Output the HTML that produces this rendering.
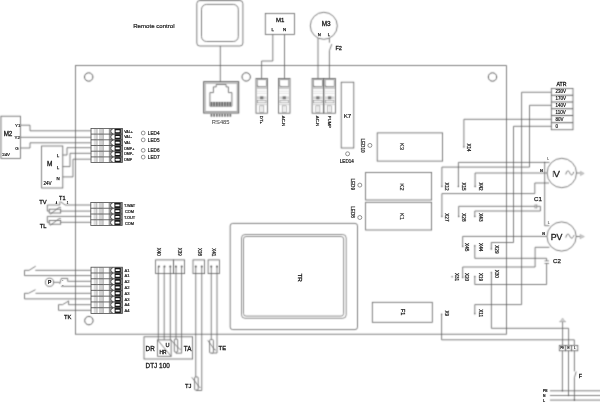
<!DOCTYPE html>
<html><head><meta charset="utf-8"><style>
html,body{margin:0;padding:0;background:#fff;}
svg{display:block;filter:grayscale(1);}
text{font-family:"Liberation Sans",sans-serif;fill:#1a1a1a;stroke:#1a1a1a;stroke-width:2px;}
</style></head><body>
<svg width="600" height="402" viewBox="0 0 600 402" fill="none" stroke="#606060" stroke-width="0.8">
<defs><filter id="bl" x="0" y="0" width="600" height="402" filterUnits="userSpaceOnUse" color-interpolation-filters="sRGB"><feConvolveMatrix order="3" kernelMatrix="4 14 4 14 49 14 4 14 4" divisor="121" edgeMode="duplicate" preserveAlpha="true"/></filter></defs>
<g filter="url(#bl)">
<rect x="0" y="0" width="600" height="402" fill="#fff" stroke="none"/>
<rect x="75.5" y="65.6" width="431" height="268.6"/>
<circle cx="88.7" cy="77" r="4.2" stroke-width="1.0"/>
<circle cx="246.2" cy="76.9" r="4.2" stroke-width="1.0"/>
<circle cx="492.5" cy="77" r="4.2" stroke-width="1.0"/>
<circle cx="88.9" cy="320.6" r="4.2" stroke-width="1.0"/>
<rect x="196.8" y="0.6" width="46.1" height="45.4" rx="3"/>
<rect x="201.5" y="4.4" width="36.8" height="37.1" rx="5"/>
<line x1="220.3" y1="46" x2="220.3" y2="81.7"/>
<rect x="203.7" y="81.7" width="35" height="31.3" stroke="#555" stroke-width="1.0"/>
<rect x="205.1" y="83.1" width="32.2" height="28.5" stroke="#aaa" stroke-width="1.2"/>
<polyline points="209.9,106.2 209.9,92.6 213.4,92.6 213.4,86.9 216.2,86.9 216.2,84.5 226.1,84.5 226.1,86.9 228.4,86.9 228.4,92.6 231.9,92.6 231.9,106.2 209.9,106.2"/>
<rect x="210.3" y="101.8" width="21.4" height="4.6" stroke="none" fill="#bdbdbd"/>
<rect x="210.6" y="102.0" width="1.6" height="4.2" stroke="none" fill="#666"/>
<rect x="210.6" y="113.9" width="1.7" height="2.8" stroke="none" fill="#6a6a6a"/>
<rect x="213.29999999999998" y="102.0" width="1.6" height="4.2" stroke="none" fill="#666"/>
<rect x="213.29999999999998" y="113.9" width="1.7" height="2.8" stroke="none" fill="#6a6a6a"/>
<rect x="216.0" y="102.0" width="1.6" height="4.2" stroke="none" fill="#666"/>
<rect x="216.0" y="113.9" width="1.7" height="2.8" stroke="none" fill="#6a6a6a"/>
<rect x="218.7" y="102.0" width="1.6" height="4.2" stroke="none" fill="#666"/>
<rect x="218.7" y="113.9" width="1.7" height="2.8" stroke="none" fill="#6a6a6a"/>
<rect x="221.4" y="102.0" width="1.6" height="4.2" stroke="none" fill="#666"/>
<rect x="221.4" y="113.9" width="1.7" height="2.8" stroke="none" fill="#6a6a6a"/>
<rect x="224.1" y="102.0" width="1.6" height="4.2" stroke="none" fill="#666"/>
<rect x="224.1" y="113.9" width="1.7" height="2.8" stroke="none" fill="#6a6a6a"/>
<rect x="226.8" y="102.0" width="1.6" height="4.2" stroke="none" fill="#666"/>
<rect x="226.8" y="113.9" width="1.7" height="2.8" stroke="none" fill="#6a6a6a"/>
<rect x="229.5" y="102.0" width="1.6" height="4.2" stroke="none" fill="#666"/>
<rect x="229.5" y="113.9" width="1.7" height="2.8" stroke="none" fill="#6a6a6a"/>
<rect x="265.3" y="13.4" width="29.1" height="21.1"/>
<polyline points="272.8,34.5 272.8,61 261.6,61 261.6,78.2"/>
<line x1="284.5" y1="34.5" x2="284.5" y2="78.2"/>
<circle cx="323.8" cy="25.8" r="13.5"/>
<line x1="318.0" y1="38.1" x2="318.0" y2="78.4"/>
<line x1="329.4" y1="38.1" x2="329.4" y2="42.7"/>
<line x1="329.4" y1="50.7" x2="329.4" y2="78.2"/>
<line x1="329.4" y1="50.7" x2="331.8" y2="44.1"/>
<rect x="256.0" y="78.4" width="11.5" height="34.8" stroke="#5a5a5a"/>
<rect x="257.2" y="79.7" width="9.1" height="6.9" stroke="#777" stroke-width="0.7"/>
<line x1="257.6" y1="85.6" x2="258.4" y2="86.4" stroke="#555" stroke-width="0.8"/>
<line x1="256.5" y1="88.0" x2="267.0" y2="88.0" stroke="#bbb" stroke-width="1.5"/>
<line x1="256.8" y1="91.2" x2="266.7" y2="91.2" stroke="#cfcfcf" stroke-width="0.6"/>
<line x1="256.8" y1="93.4" x2="266.7" y2="93.4" stroke="#cfcfcf" stroke-width="0.6"/>
<rect x="257.0" y="96.4" width="9.5" height="2.8" stroke="none" fill="#d4d4d4"/>
<rect x="260.15" y="96.4" width="3.2" height="2.8" stroke="none" fill="#777"/>
<rect x="257.5" y="100.6" width="8.5" height="2.2" stroke="#888" stroke-width="0.6"/>
<line x1="256.0" y1="104.6" x2="267.5" y2="104.6" stroke="#aaa" stroke-width="0.5"/>
<rect x="259.75" y="105.8" width="4.0" height="6.6" stroke="#888" stroke-width="0.6"/>
<line x1="261.75" y1="105.8" x2="261.75" y2="112.4" stroke="#bbb" stroke-width="0.5"/>
<rect x="278.5" y="78.4" width="11.5" height="34.8" stroke="#5a5a5a"/>
<rect x="279.7" y="79.7" width="9.1" height="6.9" stroke="#777" stroke-width="0.7"/>
<line x1="280.1" y1="85.6" x2="280.9" y2="86.4" stroke="#555" stroke-width="0.8"/>
<line x1="279.0" y1="88.0" x2="289.5" y2="88.0" stroke="#bbb" stroke-width="1.5"/>
<line x1="279.3" y1="91.2" x2="289.2" y2="91.2" stroke="#cfcfcf" stroke-width="0.6"/>
<line x1="279.3" y1="93.4" x2="289.2" y2="93.4" stroke="#cfcfcf" stroke-width="0.6"/>
<rect x="279.5" y="96.4" width="9.5" height="2.8" stroke="none" fill="#d4d4d4"/>
<rect x="282.65" y="96.4" width="3.2" height="2.8" stroke="none" fill="#777"/>
<rect x="280.0" y="100.6" width="8.5" height="2.2" stroke="#888" stroke-width="0.6"/>
<line x1="278.5" y1="104.6" x2="290.0" y2="104.6" stroke="#aaa" stroke-width="0.5"/>
<rect x="282.25" y="105.8" width="4.0" height="6.6" stroke="#888" stroke-width="0.6"/>
<line x1="284.25" y1="105.8" x2="284.25" y2="112.4" stroke="#bbb" stroke-width="0.5"/>
<rect x="312.1" y="78.4" width="11.5" height="34.8" stroke="#5a5a5a"/>
<rect x="313.3" y="79.7" width="9.1" height="6.9" stroke="#777" stroke-width="0.7"/>
<line x1="313.70000000000005" y1="85.6" x2="314.5" y2="86.4" stroke="#555" stroke-width="0.8"/>
<line x1="312.6" y1="88.0" x2="323.1" y2="88.0" stroke="#bbb" stroke-width="1.5"/>
<line x1="312.90000000000003" y1="91.2" x2="322.8" y2="91.2" stroke="#cfcfcf" stroke-width="0.6"/>
<line x1="312.90000000000003" y1="93.4" x2="322.8" y2="93.4" stroke="#cfcfcf" stroke-width="0.6"/>
<rect x="313.1" y="96.4" width="9.5" height="2.8" stroke="none" fill="#d4d4d4"/>
<rect x="316.25" y="96.4" width="3.2" height="2.8" stroke="none" fill="#777"/>
<rect x="313.6" y="100.6" width="8.5" height="2.2" stroke="#888" stroke-width="0.6"/>
<line x1="312.1" y1="104.6" x2="323.6" y2="104.6" stroke="#aaa" stroke-width="0.5"/>
<rect x="315.85" y="105.8" width="4.0" height="6.6" stroke="#888" stroke-width="0.6"/>
<line x1="317.85" y1="105.8" x2="317.85" y2="112.4" stroke="#bbb" stroke-width="0.5"/>
<rect x="323.9" y="78.4" width="11.5" height="34.8" stroke="#5a5a5a"/>
<rect x="325.09999999999997" y="79.7" width="9.1" height="6.9" stroke="#777" stroke-width="0.7"/>
<line x1="325.5" y1="85.6" x2="326.29999999999995" y2="86.4" stroke="#555" stroke-width="0.8"/>
<line x1="324.4" y1="88.0" x2="334.9" y2="88.0" stroke="#bbb" stroke-width="1.5"/>
<line x1="324.7" y1="91.2" x2="334.59999999999997" y2="91.2" stroke="#cfcfcf" stroke-width="0.6"/>
<line x1="324.7" y1="93.4" x2="334.59999999999997" y2="93.4" stroke="#cfcfcf" stroke-width="0.6"/>
<rect x="324.9" y="96.4" width="9.5" height="2.8" stroke="none" fill="#d4d4d4"/>
<rect x="328.04999999999995" y="96.4" width="3.2" height="2.8" stroke="none" fill="#777"/>
<rect x="325.4" y="100.6" width="8.5" height="2.2" stroke="#888" stroke-width="0.6"/>
<line x1="323.9" y1="104.6" x2="335.4" y2="104.6" stroke="#aaa" stroke-width="0.5"/>
<rect x="327.65" y="105.8" width="4.0" height="6.6" stroke="#888" stroke-width="0.6"/>
<line x1="329.65" y1="105.8" x2="329.65" y2="112.4" stroke="#bbb" stroke-width="0.5"/>
<rect x="341.2" y="82.2" width="12.6" height="65.8"/>
<rect x="377.2" y="132.9" width="65.4" height="28.2"/>
<rect x="365.6" y="172.4" width="66" height="27.6"/>
<rect x="365.6" y="202.3" width="66" height="27.7"/>
<rect x="372.3" y="302.3" width="60" height="20"/>
<rect x="230.2" y="223.4" width="127.3" height="106.2" rx="2.5"/>
<rect x="241.5" y="234.5" width="104.7" height="83.8" rx="3.5" stroke-width="0.7"/>
<rect x="243.5" y="236.5" width="100.1" height="79.6" rx="2.5" stroke-width="0.7"/>
<rect x="1" y="116.2" width="19.5" height="42.3"/>
<polyline points="20.5,125.2 30,125.2 30,130.8 91,130.8"/>
<line x1="20.5" y1="137.3" x2="91" y2="137.3"/>
<polyline points="20.5,148 30,148 30,142.8 91,142.8"/>
<rect x="41.6" y="146" width="21.2" height="42"/>
<polyline points="62.8,155 67,155 67,147.7 91,147.7"/>
<polyline points="62.8,166.6 70,166.6 70,153.3 91,153.3"/>
<polyline points="62.8,176.9 73,176.9 73,159.2 91,159.2"/>
<polyline points="91,205.0 65.2,205.0 60.5,201.7"/>
<polyline points="59.8,201.6 59.8,205.0 47.3,205.0 47.3,211.1 91,211.1"/>
<rect x="49.2" y="209.2" width="11.5" height="3.8" fill="#fff"/>
<polyline points="50.2,214.2 59.1,207.4 60.900000000000006,207.4"/>
<polyline points="91,216.4 47.3,216.4 47.3,222.3 91,222.3"/>
<rect x="49.2" y="220.4" width="11.5" height="3.8" fill="#fff"/>
<polyline points="50.2,225.4 59.1,218.60000000000002 60.900000000000006,218.60000000000002"/>
<polyline points="91,275.6 24.5,275.6 24.5,270.3 29.1,270.3 35.7,266.2"/>
<line x1="35.3" y1="270.3" x2="91" y2="270.3"/>
<circle cx="49.5" cy="282.3" r="4.1"/>
<line x1="53.6" y1="282.3" x2="59.7" y2="282.3"/>
<polyline points="59.7,284 61.3,278.4 67.7,278.4 67.7,281.3 91,281.3"/>
<line x1="61" y1="286.3" x2="91" y2="286.3"/>
<polyline points="91,298.9 24.5,298.9 24.5,293.3 28.5,293.3 35.5,289.7"/>
<line x1="35.5" y1="293.3" x2="91" y2="293.3"/>
<polyline points="91,310.3 58.5,310.3 58.5,304.7 62.5,304.7 69,300.8"/>
<polyline points="68.6,301.2 68.6,304.7 91,304.7"/>
<rect x="155.6" y="259.9" width="18" height="13.7"/>
<rect x="173.6" y="259.9" width="11" height="13.7"/>
<circle cx="158.9" cy="266.5" r="1.0" fill="#606060" stroke="none"/>
<circle cx="164.5" cy="266.5" r="1.0" fill="#606060" stroke="none"/>
<circle cx="170.3" cy="266.5" r="1.0" fill="#606060" stroke="none"/>
<circle cx="175.9" cy="266.5" r="1.0" fill="#606060" stroke="none"/>
<circle cx="181.7" cy="266.5" r="1.0" fill="#606060" stroke="none"/>
<rect x="193.0" y="259.9" width="11.6" height="13.7"/>
<circle cx="195.75" cy="266.5" r="1.0" fill="#606060" stroke="none"/>
<circle cx="201.75" cy="266.5" r="1.0" fill="#606060" stroke="none"/>
<rect x="208.1" y="259.9" width="11.3" height="13.7"/>
<circle cx="211.25" cy="266.5" r="1.0" fill="#606060" stroke="none"/>
<circle cx="217" cy="266.5" r="1.0" fill="#606060" stroke="none"/>
<rect x="144" y="336.8" width="48.6" height="22.2"/>
<rect x="157.6" y="339.9" width="13.5" height="16.4"/>
<line x1="157.6" y1="339.9" x2="171.1" y2="356.3"/>
<line x1="158.3" y1="266.5" x2="158.3" y2="339.9"/>
<line x1="164.2" y1="266.5" x2="164.2" y2="339.9"/>
<line x1="170.3" y1="266.5" x2="170.3" y2="339.9"/>
<line x1="176" y1="266.5" x2="176" y2="339.2"/>
<polyline points="181.6,266.5 181.6,353.2 176,353.2 176,352"/>
<rect x="174.3" y="339.2" width="3.4" height="12.8" rx="0.8" fill="#fff"/>
<polyline points="170.8,339.9 179.7,349.3 180.6,349.3"/>
<line x1="195.75" y1="266.5" x2="195.75" y2="377"/>
<polyline points="201.75,266.5 201.75,390.5 196.5,390.5 196.5,390"/>
<rect x="194.6" y="377" width="3.6" height="13" rx="0.8" fill="#fff"/>
<polyline points="191.8,377.3 199.5,387.4 200.5,387.4"/>
<line x1="211.25" y1="266.5" x2="211.25" y2="339.6"/>
<polyline points="217,266.5 217,353 211.5,353"/>
<rect x="209.6" y="339.6" width="3.8" height="13.4" rx="0.8" fill="#fff"/>
<polyline points="207.8,340.4 214.8,350 215.8,350"/>
<rect x="551.3" y="88.5" width="21.7" height="41.25"/>
<line x1="551.3" y1="95.25" x2="573" y2="95.25" stroke-width="1.0"/>
<line x1="551.3" y1="102" x2="573" y2="102" stroke-width="1.0"/>
<line x1="551.3" y1="108.75" x2="573" y2="108.75" stroke-width="1.0"/>
<line x1="551.3" y1="115.5" x2="573" y2="115.5" stroke-width="1.0"/>
<line x1="551.3" y1="122.7" x2="573" y2="122.7" stroke-width="1.0"/>
<polyline points="551.3,92.25 521.6,92.25 521.6,304.6 474.8,304.6 474.8,313.7"/>
<polyline points="551.3,105.3 529.5,105.3 529.5,167.1 441.9,167.1 441.9,186.6"/>
<polyline points="551.3,119.3 463.9,119.3 463.9,146.9"/>
<polyline points="551.3,126.3 513.5,126.3 513.5,242.5 491.3,242.5 491.3,249"/>
<circle cx="561.8" cy="173" r="14.7"/>
<path d="M565.8,174.4 C566.6,170.6 568.4,169.8 569.6,172.6 C570.8,175.6 572.6,176 573.7,171.9" stroke="#555" stroke-width="0.8"/>
<line x1="576.5" y1="173" x2="580.3" y2="173"/>
<path d="M580.5,171.3 L584.2,173.4 L580.5,175.6 Z" stroke="#aaa" stroke-width="0.6" fill="#c8c8c8"/>
<polyline points="458.4,186.6 458.4,162.4 544.7,162.4 549.5,162.4"/>
<polyline points="544.7,162.4 544.7,225.7 549.3,225.7"/>
<circle cx="544.7" cy="162.4" r="0.7" fill="#606060" stroke="none"/>
<polyline points="475.1,186.6 475.1,173 547.2,173"/>
<polyline points="441.9,216.6 441.9,193.6 534.8,193.6 534.8,183 549,183"/>
<polyline points="458.7,216.6 458.7,206.3 535.1,206.3"/>
<line x1="535.1" y1="204.3" x2="535.1" y2="208.5" stroke-width="0.7"/>
<line x1="536.7" y1="204.3" x2="536.7" y2="208.5" stroke-width="0.7"/>
<polyline points="536.7,206.3 540.4,206.3 540.4,211 474.8,211 474.8,216.6"/>
<circle cx="561.6" cy="236.5" r="14.6"/>
<path d="M565.8,237.6 C566.6,233.8 568.4,233 569.6,235.8 C570.8,238.8 572.6,239.2 574,235.2" stroke="#555" stroke-width="0.8"/>
<line x1="576" y1="236.5" x2="580" y2="236.5"/>
<path d="M580,234.4 L584.4,236.6 L580,238.8 Z" stroke="#aaa" stroke-width="0.6" fill="#c8c8c8"/>
<polyline points="462.7,246.6 462.7,236.4 547,236.4"/>
<polyline points="549.4,247.3 535.1,247.3 535.1,267 462.7,267 462.7,277.4"/>
<polyline points="474.8,245.8 474.8,258.3 546.6,258.3 546.6,260.9"/>
<line x1="544.5" y1="260.9" x2="549" y2="260.9" stroke-width="0.7"/>
<line x1="544.5" y1="263.5" x2="549" y2="263.5" stroke-width="0.7"/>
<polyline points="546.6,263.5 546.6,284.5 474.8,284.5 474.8,276.5"/>
<polyline points="491.4,272.6 491.4,328.3 568.6,328.3 568.6,345.4"/>
<polyline points="441.6,314.3 441.6,339.8 574.3,339.8 574.3,345.4"/>
<line x1="562.6" y1="321.7" x2="562.6" y2="345.4"/>
<line x1="559.4" y1="321.7" x2="565.9" y2="321.7" stroke="#888"/>
<path d="M560.2,321.5 L562.6,318.0 L565.0,321.5 Z" stroke="#aaa" stroke-width="0.6" fill="#d0d0d0"/>
<rect x="559.3" y="345.4" width="6.1" height="5.4"/>
<rect x="565.4" y="345.4" width="6.2" height="5.4"/>
<rect x="571.6" y="345.4" width="6.2" height="5.4"/>
<line x1="562.4" y1="350.8" x2="562.4" y2="390.8"/>
<line x1="568.5" y1="350.8" x2="568.5" y2="395.5"/>
<line x1="574.4" y1="350.8" x2="574.4" y2="371.4"/>
<line x1="574.4" y1="377.7" x2="574.4" y2="400.1"/>
<line x1="574.4" y1="377.7" x2="576.2" y2="371.6"/>
<circle cx="562.4" cy="390.8" r="0.8" fill="#606060" stroke="none"/>
<circle cx="568.5" cy="395.5" r="0.8" fill="#606060" stroke="none"/>
<circle cx="574.4" cy="400.1" r="0.8" fill="#606060" stroke="none"/>
<line x1="550" y1="390.8" x2="600" y2="390.8"/>
<line x1="550" y1="395.5" x2="600" y2="395.5"/>
<line x1="550" y1="400.1" x2="600" y2="400.1"/>
<circle cx="463.9" cy="146.9" r="0.75" fill="#606060" stroke="none"/>
<circle cx="441.9" cy="186.6" r="0.75" fill="#606060" stroke="none"/>
<circle cx="458.4" cy="186.6" r="0.75" fill="#606060" stroke="none"/>
<circle cx="475.1" cy="186.6" r="0.75" fill="#606060" stroke="none"/>
<circle cx="441.9" cy="216.6" r="0.75" fill="#606060" stroke="none"/>
<circle cx="458.7" cy="216.6" r="0.75" fill="#606060" stroke="none"/>
<circle cx="474.8" cy="216.6" r="0.75" fill="#606060" stroke="none"/>
<circle cx="462.7" cy="246.6" r="0.75" fill="#606060" stroke="none"/>
<circle cx="474.8" cy="245.8" r="0.75" fill="#606060" stroke="none"/>
<circle cx="491.3" cy="249" r="0.75" fill="#606060" stroke="none"/>
<circle cx="452.1" cy="276.7" r="0.75" fill="#606060" stroke="none"/>
<circle cx="462.7" cy="277.4" r="0.75" fill="#606060" stroke="none"/>
<circle cx="474.8" cy="276.5" r="0.75" fill="#606060" stroke="none"/>
<circle cx="491.4" cy="272.6" r="0.75" fill="#606060" stroke="none"/>
<circle cx="474.8" cy="313.7" r="0.75" fill="#606060" stroke="none"/>
<circle cx="441.6" cy="314.3" r="0.75" fill="#606060" stroke="none"/>
</g>
<g>
<text x="0" y="0" font-size="61.0" text-anchor="start" transform="translate(133.2 28) scale(0.1)" style="stroke-width:2.00px;">Remote control</text>
<text x="0" y="0" font-size="58.0" text-anchor="middle" transform="translate(220.7 123.8) scale(0.1)" style="fill:#555;stroke:#555;stroke-width:1.00px;">RS485</text>
<text x="0" y="0" font-size="60.0" text-anchor="middle" transform="translate(280.2 22.2) scale(0.1)" style="stroke-width:3.00px;">M1</text>
<text x="0" y="0" font-size="44.0" text-anchor="middle" transform="translate(272.7 30.6) scale(0.1)" style="stroke-width:2.50px;">L</text>
<text x="0" y="0" font-size="44.0" text-anchor="middle" transform="translate(284.6 30.6) scale(0.1)" style="stroke-width:2.50px;">N</text>
<text x="0" y="0" font-size="64.0" text-anchor="middle" transform="translate(326.2 25.9) scale(0.1)" style="stroke-width:3.00px;">M3</text>
<text x="0" y="0" font-size="42.0" text-anchor="middle" transform="translate(319.2 35.6) scale(0.1)" style="stroke-width:2.50px;">N</text>
<text x="0" y="0" font-size="42.0" text-anchor="middle" transform="translate(328.8 35.6) scale(0.1)" style="stroke-width:2.50px;">L</text>
<text x="0" y="0" font-size="56.0" text-anchor="start" transform="translate(335.4 49.8) scale(0.1)" style="stroke-width:3.00px;">F2</text>
<text x="0" y="0" font-size="43.0" text-anchor="start" transform="translate(259.85 115.8) rotate(90) scale(0.1)">DT+</text>
<text x="0" y="0" font-size="43.0" text-anchor="start" transform="translate(282.35 115.8) rotate(90) scale(0.1)">AC-N</text>
<text x="0" y="0" font-size="43.0" text-anchor="start" transform="translate(315.95 115.8) rotate(90) scale(0.1)">AC-N</text>
<text x="0" y="0" font-size="43.0" text-anchor="start" transform="translate(327.75 115.8) rotate(90) scale(0.1)">PUMP</text>
<text x="0" y="0" font-size="62.0" text-anchor="middle" transform="translate(347.5 117.7) scale(0.1)" style="stroke-width:2.00px;">K7</text>
<circle cx="347.6" cy="153.8" r="2.0" fill="none" stroke="#5a5a5a" stroke-width="0.65"/>
<text x="0" y="0" font-size="46.0" text-anchor="middle" transform="translate(346.8 163.0) scale(0.1)">LED14</text>
<circle cx="369.9" cy="145.4" r="2.0" fill="none" stroke="#5a5a5a" stroke-width="0.65"/>
<text x="0" y="0" font-size="46.0" text-anchor="start" transform="translate(361.4 138.5) rotate(90) scale(0.1)">LED10</text>
<text x="0" y="0" font-size="60.0" text-anchor="middle" transform="translate(400.3 146.3) rotate(90) scale(0.1)" style="stroke-width:1.50px;">K3</text>
<text x="0" y="0" font-size="60.0" text-anchor="middle" transform="translate(400.3 187.0) rotate(90) scale(0.1)" style="stroke-width:1.50px;">K2</text>
<circle cx="359.8" cy="185.1" r="2.0" fill="none" stroke="#5a5a5a" stroke-width="0.65"/>
<text x="0" y="0" font-size="46.0" text-anchor="start" transform="translate(351.3 178.5) rotate(90) scale(0.1)">LED9</text>
<text x="0" y="0" font-size="60.0" text-anchor="middle" transform="translate(400.3 216.3) rotate(90) scale(0.1)" style="stroke-width:1.50px;">K1</text>
<circle cx="359.8" cy="217.5" r="2.0" fill="none" stroke="#5a5a5a" stroke-width="0.65"/>
<text x="0" y="0" font-size="46.0" text-anchor="start" transform="translate(351.3 206.3) rotate(90) scale(0.1)">LED8</text>
<text x="0" y="0" font-size="54.0" text-anchor="middle" transform="translate(400.8 312) rotate(90) scale(0.1)" style="stroke-width:3.00px;">F1</text>
<text x="0" y="0" font-size="62.0" text-anchor="middle" transform="translate(298.1 277.6) rotate(90) scale(0.1)" style="stroke-width:3.00px;">TR</text>
<rect x="93.8" y="128.4" width="2.6" height="34.2" stroke="none" fill="#dcdcdc"/>
<rect x="99.0" y="128.4" width="3.9" height="34.2" stroke="none" fill="#d2d2d2"/>
<rect x="109.39999999999999" y="128.4" width="11.6" height="34.2" stroke="none" fill="#a8a8a8"/>
<rect x="121.0" y="128.4" width="1.4" height="34.2" stroke="none" fill="#8a8a8a"/>
<path d="M114.70,129.00 L112.80,129.00 A2.0,2.25 0 0 0 112.80,133.50 L114.70,133.50 Z" fill="#fff" stroke="none"/>
<path d="M112.80,129.00 A2.0,2.25 0 0 0 112.80,133.50" stroke="#333" stroke-width="0.8"/>
<rect x="114.7" y="128.65" width="6.1" height="5.2" rx="0.6" stroke="none" fill="#161616"/>
<rect x="115.6" y="130.35" width="4.1" height="1.8" rx="0.3" stroke="none" fill="#fff"/>
<text x="0" y="0" font-size="36.0" text-anchor="start" transform="translate(124.2 132.55) scale(0.1)">VAL+</text>
<path d="M114.70,134.70 L112.80,134.70 A2.0,2.25 0 0 0 112.80,139.20 L114.70,139.20 Z" fill="#fff" stroke="none"/>
<path d="M112.80,134.70 A2.0,2.25 0 0 0 112.80,139.20" stroke="#333" stroke-width="0.8"/>
<rect x="114.7" y="134.35" width="6.1" height="5.2" rx="0.6" stroke="none" fill="#161616"/>
<rect x="115.6" y="136.04999999999998" width="4.1" height="1.8" rx="0.3" stroke="none" fill="#fff"/>
<text x="0" y="0" font-size="36.0" text-anchor="start" transform="translate(124.2 138.25) scale(0.1)">VAL-</text>
<path d="M114.70,140.40 L112.80,140.40 A2.0,2.25 0 0 0 112.80,144.90 L114.70,144.90 Z" fill="#fff" stroke="none"/>
<path d="M112.80,140.40 A2.0,2.25 0 0 0 112.80,144.90" stroke="#333" stroke-width="0.8"/>
<rect x="114.7" y="140.05" width="6.1" height="5.2" rx="0.6" stroke="none" fill="#161616"/>
<rect x="115.6" y="141.75" width="4.1" height="1.8" rx="0.3" stroke="none" fill="#fff"/>
<text x="0" y="0" font-size="36.0" text-anchor="start" transform="translate(124.2 143.95) scale(0.1)">VAL</text>
<path d="M114.70,146.10 L112.80,146.10 A2.0,2.25 0 0 0 112.80,150.60 L114.70,150.60 Z" fill="#fff" stroke="none"/>
<path d="M112.80,146.10 A2.0,2.25 0 0 0 112.80,150.60" stroke="#333" stroke-width="0.8"/>
<rect x="114.7" y="145.75" width="6.1" height="5.2" rx="0.6" stroke="none" fill="#161616"/>
<rect x="115.6" y="147.45" width="4.1" height="1.8" rx="0.3" stroke="none" fill="#fff"/>
<text x="0" y="0" font-size="36.0" text-anchor="start" transform="translate(124.2 149.65) scale(0.1)">DMP+</text>
<path d="M114.70,151.80 L112.80,151.80 A2.0,2.25 0 0 0 112.80,156.30 L114.70,156.30 Z" fill="#fff" stroke="none"/>
<path d="M112.80,151.80 A2.0,2.25 0 0 0 112.80,156.30" stroke="#333" stroke-width="0.8"/>
<rect x="114.7" y="151.45000000000002" width="6.1" height="5.2" rx="0.6" stroke="none" fill="#161616"/>
<rect x="115.6" y="153.15" width="4.1" height="1.8" rx="0.3" stroke="none" fill="#fff"/>
<text x="0" y="0" font-size="36.0" text-anchor="start" transform="translate(124.2 155.35) scale(0.1)">DMP-</text>
<path d="M114.70,157.50 L112.80,157.50 A2.0,2.25 0 0 0 112.80,162.00 L114.70,162.00 Z" fill="#fff" stroke="none"/>
<path d="M112.80,157.50 A2.0,2.25 0 0 0 112.80,162.00" stroke="#333" stroke-width="0.8"/>
<rect x="114.7" y="157.15" width="6.1" height="5.2" rx="0.6" stroke="none" fill="#161616"/>
<rect x="115.6" y="158.85" width="4.1" height="1.8" rx="0.3" stroke="none" fill="#fff"/>
<text x="0" y="0" font-size="36.0" text-anchor="start" transform="translate(124.2 161.05) scale(0.1)">DMP</text>
<rect x="91" y="128.4" width="31.4" height="34.2" stroke="#4a4a4a" stroke-width="0.8"/>
<line x1="91" y1="134.1" x2="122.4" y2="134.1" stroke="#3a3a3a" stroke-width="0.75"/>
<line x1="91" y1="139.8" x2="122.4" y2="139.8" stroke="#3a3a3a" stroke-width="0.75"/>
<line x1="91" y1="145.5" x2="122.4" y2="145.5" stroke="#3a3a3a" stroke-width="0.75"/>
<line x1="91" y1="151.20000000000002" x2="122.4" y2="151.20000000000002" stroke="#3a3a3a" stroke-width="0.75"/>
<line x1="91" y1="156.9" x2="122.4" y2="156.9" stroke="#3a3a3a" stroke-width="0.75"/>
<line x1="97.0" y1="128.4" x2="97.0" y2="162.60000000000002" stroke="#777" stroke-width="0.6"/>
<line x1="103.3" y1="128.4" x2="103.3" y2="162.60000000000002" stroke="#777" stroke-width="0.6"/>
<line x1="109.3" y1="128.4" x2="109.3" y2="162.60000000000002" stroke="#666" stroke-width="0.6"/>
<rect x="93.6" y="202.5" width="2.6" height="23.0" stroke="none" fill="#dcdcdc"/>
<rect x="98.8" y="202.5" width="3.9" height="23.0" stroke="none" fill="#d2d2d2"/>
<rect x="109.19999999999999" y="202.5" width="11.6" height="23.0" stroke="none" fill="#a8a8a8"/>
<rect x="120.8" y="202.5" width="1.4" height="23.0" stroke="none" fill="#8a8a8a"/>
<path d="M114.50,203.10 L112.60,203.10 A2.0,2.27 0 0 0 112.60,207.65 L114.50,207.65 Z" fill="#fff" stroke="none"/>
<path d="M112.60,203.10 A2.0,2.27 0 0 0 112.60,207.65" stroke="#333" stroke-width="0.8"/>
<rect x="114.5" y="202.75" width="6.1" height="5.25" rx="0.6" stroke="none" fill="#161616"/>
<rect x="115.39999999999999" y="204.475" width="4.1" height="1.8" rx="0.3" stroke="none" fill="#fff"/>
<text x="0" y="0" font-size="39.0" text-anchor="start" transform="translate(124.0 207.38) scale(0.1)">T.WAT</text>
<path d="M114.50,208.85 L112.60,208.85 A2.0,2.27 0 0 0 112.60,213.40 L114.50,213.40 Z" fill="#fff" stroke="none"/>
<path d="M112.60,208.85 A2.0,2.27 0 0 0 112.60,213.40" stroke="#333" stroke-width="0.8"/>
<rect x="114.5" y="208.5" width="6.1" height="5.25" rx="0.6" stroke="none" fill="#161616"/>
<rect x="115.39999999999999" y="210.225" width="4.1" height="1.8" rx="0.3" stroke="none" fill="#fff"/>
<text x="0" y="0" font-size="39.0" text-anchor="start" transform="translate(124.9 213.13) scale(0.1)">COM</text>
<path d="M114.50,214.60 L112.60,214.60 A2.0,2.27 0 0 0 112.60,219.15 L114.50,219.15 Z" fill="#fff" stroke="none"/>
<path d="M112.60,214.60 A2.0,2.27 0 0 0 112.60,219.15" stroke="#333" stroke-width="0.8"/>
<rect x="114.5" y="214.25" width="6.1" height="5.25" rx="0.6" stroke="none" fill="#161616"/>
<rect x="115.39999999999999" y="215.975" width="4.1" height="1.8" rx="0.3" stroke="none" fill="#fff"/>
<text x="0" y="0" font-size="39.0" text-anchor="start" transform="translate(124.0 218.88) scale(0.1)">T.OUT</text>
<path d="M114.50,220.35 L112.60,220.35 A2.0,2.27 0 0 0 112.60,224.90 L114.50,224.90 Z" fill="#fff" stroke="none"/>
<path d="M112.60,220.35 A2.0,2.27 0 0 0 112.60,224.90" stroke="#333" stroke-width="0.8"/>
<rect x="114.5" y="220.0" width="6.1" height="5.25" rx="0.6" stroke="none" fill="#161616"/>
<rect x="115.39999999999999" y="221.725" width="4.1" height="1.8" rx="0.3" stroke="none" fill="#fff"/>
<text x="0" y="0" font-size="39.0" text-anchor="start" transform="translate(124.9 224.63) scale(0.1)">COM</text>
<rect x="90.8" y="202.5" width="31.4" height="23.0" stroke="#4a4a4a" stroke-width="0.8"/>
<line x1="90.8" y1="208.25" x2="122.19999999999999" y2="208.25" stroke="#3a3a3a" stroke-width="0.75"/>
<line x1="90.8" y1="214.0" x2="122.19999999999999" y2="214.0" stroke="#3a3a3a" stroke-width="0.75"/>
<line x1="90.8" y1="219.75" x2="122.19999999999999" y2="219.75" stroke="#3a3a3a" stroke-width="0.75"/>
<line x1="96.8" y1="202.5" x2="96.8" y2="225.5" stroke="#777" stroke-width="0.6"/>
<line x1="103.1" y1="202.5" x2="103.1" y2="225.5" stroke="#777" stroke-width="0.6"/>
<line x1="109.1" y1="202.5" x2="109.1" y2="225.5" stroke="#666" stroke-width="0.6"/>
<rect x="93.8" y="267.2" width="2.6" height="46.32" stroke="none" fill="#dcdcdc"/>
<rect x="99.0" y="267.2" width="3.9" height="46.32" stroke="none" fill="#d2d2d2"/>
<rect x="109.39999999999999" y="267.2" width="11.6" height="46.32" stroke="none" fill="#a8a8a8"/>
<rect x="121.0" y="267.2" width="1.4" height="46.32" stroke="none" fill="#8a8a8a"/>
<path d="M114.70,267.80 L112.80,267.80 A2.0,2.29 0 0 0 112.80,272.39 L114.70,272.39 Z" fill="#fff" stroke="none"/>
<path d="M112.80,267.80 A2.0,2.29 0 0 0 112.80,272.39" stroke="#333" stroke-width="0.8"/>
<rect x="114.7" y="267.45" width="6.1" height="5.29" rx="0.6" stroke="none" fill="#161616"/>
<rect x="115.6" y="269.195" width="4.1" height="1.8" rx="0.3" stroke="none" fill="#fff"/>
<text x="0" y="0" font-size="41.0" text-anchor="start" transform="translate(124.4 271.57) scale(0.1)">A1</text>
<path d="M114.70,273.59 L112.80,273.59 A2.0,2.29 0 0 0 112.80,278.18 L114.70,278.18 Z" fill="#fff" stroke="none"/>
<path d="M112.80,273.59 A2.0,2.29 0 0 0 112.80,278.18" stroke="#333" stroke-width="0.8"/>
<rect x="114.7" y="273.24" width="6.1" height="5.29" rx="0.6" stroke="none" fill="#161616"/>
<rect x="115.6" y="274.985" width="4.1" height="1.8" rx="0.3" stroke="none" fill="#fff"/>
<text x="0" y="0" font-size="41.0" text-anchor="start" transform="translate(124.4 277.36) scale(0.1)">A1</text>
<path d="M114.70,279.38 L112.80,279.38 A2.0,2.29 0 0 0 112.80,283.97 L114.70,283.97 Z" fill="#fff" stroke="none"/>
<path d="M112.80,279.38 A2.0,2.29 0 0 0 112.80,283.97" stroke="#333" stroke-width="0.8"/>
<rect x="114.7" y="279.03" width="6.1" height="5.29" rx="0.6" stroke="none" fill="#161616"/>
<rect x="115.6" y="280.775" width="4.1" height="1.8" rx="0.3" stroke="none" fill="#fff"/>
<text x="0" y="0" font-size="41.0" text-anchor="start" transform="translate(124.4 283.15) scale(0.1)">A2</text>
<path d="M114.70,285.17 L112.80,285.17 A2.0,2.29 0 0 0 112.80,289.76 L114.70,289.76 Z" fill="#fff" stroke="none"/>
<path d="M112.80,285.17 A2.0,2.29 0 0 0 112.80,289.76" stroke="#333" stroke-width="0.8"/>
<rect x="114.7" y="284.82" width="6.1" height="5.29" rx="0.6" stroke="none" fill="#161616"/>
<rect x="115.6" y="286.565" width="4.1" height="1.8" rx="0.3" stroke="none" fill="#fff"/>
<text x="0" y="0" font-size="41.0" text-anchor="start" transform="translate(124.4 288.94) scale(0.1)">A2</text>
<path d="M114.70,290.96 L112.80,290.96 A2.0,2.29 0 0 0 112.80,295.55 L114.70,295.55 Z" fill="#fff" stroke="none"/>
<path d="M112.80,290.96 A2.0,2.29 0 0 0 112.80,295.55" stroke="#333" stroke-width="0.8"/>
<rect x="114.7" y="290.61" width="6.1" height="5.29" rx="0.6" stroke="none" fill="#161616"/>
<rect x="115.6" y="292.355" width="4.1" height="1.8" rx="0.3" stroke="none" fill="#fff"/>
<text x="0" y="0" font-size="41.0" text-anchor="start" transform="translate(124.4 294.73) scale(0.1)">A3</text>
<path d="M114.70,296.75 L112.80,296.75 A2.0,2.29 0 0 0 112.80,301.34 L114.70,301.34 Z" fill="#fff" stroke="none"/>
<path d="M112.80,296.75 A2.0,2.29 0 0 0 112.80,301.34" stroke="#333" stroke-width="0.8"/>
<rect x="114.7" y="296.4" width="6.1" height="5.29" rx="0.6" stroke="none" fill="#161616"/>
<rect x="115.6" y="298.145" width="4.1" height="1.8" rx="0.3" stroke="none" fill="#fff"/>
<text x="0" y="0" font-size="41.0" text-anchor="start" transform="translate(124.4 300.52) scale(0.1)">A3</text>
<path d="M114.70,302.54 L112.80,302.54 A2.0,2.29 0 0 0 112.80,307.13 L114.70,307.13 Z" fill="#fff" stroke="none"/>
<path d="M112.80,302.54 A2.0,2.29 0 0 0 112.80,307.13" stroke="#333" stroke-width="0.8"/>
<rect x="114.7" y="302.19" width="6.1" height="5.29" rx="0.6" stroke="none" fill="#161616"/>
<rect x="115.6" y="303.935" width="4.1" height="1.8" rx="0.3" stroke="none" fill="#fff"/>
<text x="0" y="0" font-size="41.0" text-anchor="start" transform="translate(124.4 306.31) scale(0.1)">A4</text>
<path d="M114.70,308.33 L112.80,308.33 A2.0,2.29 0 0 0 112.80,312.92 L114.70,312.92 Z" fill="#fff" stroke="none"/>
<path d="M112.80,308.33 A2.0,2.29 0 0 0 112.80,312.92" stroke="#333" stroke-width="0.8"/>
<rect x="114.7" y="307.98" width="6.1" height="5.29" rx="0.6" stroke="none" fill="#161616"/>
<rect x="115.6" y="309.725" width="4.1" height="1.8" rx="0.3" stroke="none" fill="#fff"/>
<text x="0" y="0" font-size="41.0" text-anchor="start" transform="translate(124.4 312.1) scale(0.1)">A4</text>
<rect x="91" y="267.2" width="31.4" height="46.32" stroke="#4a4a4a" stroke-width="0.8"/>
<line x1="91" y1="272.99" x2="122.4" y2="272.99" stroke="#3a3a3a" stroke-width="0.75"/>
<line x1="91" y1="278.78" x2="122.4" y2="278.78" stroke="#3a3a3a" stroke-width="0.75"/>
<line x1="91" y1="284.57" x2="122.4" y2="284.57" stroke="#3a3a3a" stroke-width="0.75"/>
<line x1="91" y1="290.36" x2="122.4" y2="290.36" stroke="#3a3a3a" stroke-width="0.75"/>
<line x1="91" y1="296.15" x2="122.4" y2="296.15" stroke="#3a3a3a" stroke-width="0.75"/>
<line x1="91" y1="301.94" x2="122.4" y2="301.94" stroke="#3a3a3a" stroke-width="0.75"/>
<line x1="91" y1="307.73" x2="122.4" y2="307.73" stroke="#3a3a3a" stroke-width="0.75"/>
<line x1="97.0" y1="267.2" x2="97.0" y2="313.52" stroke="#777" stroke-width="0.6"/>
<line x1="103.3" y1="267.2" x2="103.3" y2="313.52" stroke="#777" stroke-width="0.6"/>
<line x1="109.3" y1="267.2" x2="109.3" y2="313.52" stroke="#666" stroke-width="0.6"/>
<circle cx="143.2" cy="133" r="1.9" fill="none" stroke="#5a5a5a" stroke-width="0.65"/>
<text x="0" y="0" font-size="47.0" text-anchor="start" transform="translate(147.8 134.6) scale(0.1)">LED4</text>
<circle cx="143.2" cy="139.9" r="1.9" fill="none" stroke="#5a5a5a" stroke-width="0.65"/>
<text x="0" y="0" font-size="47.0" text-anchor="start" transform="translate(147.8 141.5) scale(0.1)">LED5</text>
<circle cx="143.2" cy="150.3" r="1.9" fill="none" stroke="#5a5a5a" stroke-width="0.65"/>
<text x="0" y="0" font-size="47.0" text-anchor="start" transform="translate(147.8 151.9) scale(0.1)">LED6</text>
<circle cx="143.2" cy="157.1" r="1.9" fill="none" stroke="#5a5a5a" stroke-width="0.65"/>
<text x="0" y="0" font-size="47.0" text-anchor="start" transform="translate(147.8 158.7) scale(0.1)">LED7</text>
<text x="0" y="0" font-size="63.0" text-anchor="middle" transform="translate(8.0 136.3) scale(0.1)" style="stroke-width:3.00px;">M2</text>
<text x="0" y="0" font-size="44.0" text-anchor="start" transform="translate(15.0 127.4) scale(0.1)">Y1</text>
<text x="0" y="0" font-size="44.0" text-anchor="start" transform="translate(14.5 138.9) scale(0.1)">Y2</text>
<text x="0" y="0" font-size="44.0" text-anchor="start" transform="translate(15.3 149.9) scale(0.1)">G</text>
<text x="0" y="0" font-size="44.0" text-anchor="start" transform="translate(2.2 155.5) scale(0.1)">24V</text>
<text x="0" y="0" font-size="65.0" text-anchor="middle" transform="translate(49.7 165.8) scale(0.1)" style="stroke-width:3.00px;">M</text>
<text x="0" y="0" font-size="44.0" text-anchor="middle" transform="translate(58.0 156.9) scale(0.1)" style="stroke-width:2.50px;">L</text>
<text x="0" y="0" font-size="44.0" text-anchor="middle" transform="translate(58.0 168.5) scale(0.1)" style="stroke-width:2.50px;">L</text>
<text x="0" y="0" font-size="44.0" text-anchor="middle" transform="translate(58.2 179.5) scale(0.1)" style="stroke-width:2.50px;">N</text>
<text x="0" y="0" font-size="46.0" text-anchor="start" transform="translate(43.5 184.8) scale(0.1)">24V</text>
<text x="0" y="0" font-size="58.0" text-anchor="start" transform="translate(39.2 204.1) scale(0.1)" style="stroke-width:3.00px;">TV</text>
<text x="0" y="0" font-size="56.0" text-anchor="start" transform="translate(59.1 199.6) scale(0.1)" style="stroke-width:3.00px;">T1</text>
<text x="0" y="0" font-size="26.0" text-anchor="middle" transform="translate(56.4 203.5) scale(0.1)">4</text>
<text x="0" y="0" font-size="26.0" text-anchor="middle" transform="translate(67.4 203.5) scale(0.1)">1</text>
<text x="0" y="0" font-size="58.0" text-anchor="start" transform="translate(39.7 228.4) scale(0.1)" style="stroke-width:3.00px;">TL</text>
<text x="0" y="0" font-size="54.0" text-anchor="middle" transform="translate(49.5 284.2) scale(0.1)" font-weight="bold">P</text>
<text x="0" y="0" font-size="20.0" text-anchor="start" transform="translate(62.2 281) scale(0.1)" style="fill:#888;stroke:#888;">1</text>
<text x="0" y="0" font-size="20.0" text-anchor="start" transform="translate(62.2 285.6) scale(0.1)" style="fill:#888;stroke:#888;">2</text>
<text x="0" y="0" font-size="58.0" text-anchor="start" transform="translate(64 319) scale(0.1)" style="stroke-width:3.00px;">TK</text>
<text x="0" y="0" font-size="45.0" text-anchor="start" transform="translate(157.0 247.8) rotate(90) scale(0.1)">X40</text>
<text x="0" y="0" font-size="45.0" text-anchor="start" transform="translate(177.5 247.8) rotate(90) scale(0.1)">X39</text>
<text x="0" y="0" font-size="45.0" text-anchor="start" transform="translate(197.7 247.9) rotate(90) scale(0.1)">X38</text>
<text x="0" y="0" font-size="45.0" text-anchor="start" transform="translate(211.9 248.2) rotate(90) scale(0.1)">X41</text>
<text x="0" y="0" font-size="63.0" text-anchor="start" transform="translate(145.6 350.9) scale(0.1)" style="stroke-width:3.00px;">DR</text>
<text x="0" y="0" font-size="56.0" text-anchor="middle" transform="translate(167.6 346.7) scale(0.1)" style="stroke-width:3.00px;">U</text>
<text x="0" y="0" font-size="48.0" text-anchor="middle" transform="translate(163.0 353.9) scale(0.1)" style="stroke-width:3.00px;">HR</text>
<text x="0" y="0" font-size="63.0" text-anchor="start" transform="translate(183.8 350.9) scale(0.1)" style="stroke-width:3.00px;">TA</text>
<text x="0" y="0" font-size="64.0" text-anchor="start" transform="translate(145.6 368.3) scale(0.1)" style="stroke-width:3.00px;">DTJ 100</text>
<text x="0" y="0" font-size="58.0" text-anchor="start" transform="translate(184.9 388.2) scale(0.1)" style="stroke-width:3.00px;">TJ</text>
<text x="0" y="0" font-size="58.0" text-anchor="start" transform="translate(218.6 350.4) scale(0.1)" style="stroke-width:3.00px;">TE</text>
<text x="0" y="0" font-size="52.0" text-anchor="middle" transform="translate(561.5 85.8) scale(0.1)" style="stroke-width:3.00px;">ATR</text>
<text x="0" y="0" font-size="45.0" text-anchor="start" transform="translate(555.6 93.475) scale(0.1)">230V</text>
<text x="0" y="0" font-size="45.0" text-anchor="start" transform="translate(555.6 100.225) scale(0.1)">170V</text>
<text x="0" y="0" font-size="45.0" text-anchor="start" transform="translate(555.6 106.975) scale(0.1)">140V</text>
<text x="0" y="0" font-size="45.0" text-anchor="start" transform="translate(555.6 113.725) scale(0.1)">110V</text>
<text x="0" y="0" font-size="45.0" text-anchor="start" transform="translate(555.6 120.69999999999999) scale(0.1)">80V</text>
<text x="0" y="0" font-size="45.0" text-anchor="start" transform="translate(555.6 127.82499999999999) scale(0.1)">0</text>
<text x="0" y="0" font-size="96.0" text-anchor="start" transform="translate(552.0 176.6) scale(0.1)" style="fill:#888;stroke:#888;">I</text>
<text x="0" y="0" font-size="96.0" text-anchor="middle" transform="translate(556.8 176.6) scale(0.1)" style="stroke-width:3.00px;">V</text>
<text x="0" y="0" font-size="32.0" text-anchor="middle" transform="translate(548.1 160.2) scale(0.1)" style="fill:#666;stroke:#666;">L</text>
<text x="0" y="0" font-size="40.0" text-anchor="middle" transform="translate(541.4 171.8) scale(0.1)" font-weight="bold">N</text>
<text x="0" y="0" font-size="62.0" text-anchor="start" transform="translate(534.0 200.8) scale(0.1)" style="stroke-width:2.50px;">C1</text>
<text x="0" y="0" font-size="88.0" text-anchor="middle" transform="translate(556.5 239.9) scale(0.1)" style="stroke-width:3.00px;">PV</text>
<text x="0" y="0" font-size="32.0" text-anchor="middle" transform="translate(548.7 224) scale(0.1)" style="fill:#666;stroke:#666;">L</text>
<text x="0" y="0" font-size="38.0" text-anchor="middle" transform="translate(543.7 235.2) scale(0.1)" font-weight="bold">N</text>
<text x="0" y="0" font-size="62.0" text-anchor="start" transform="translate(553.1 263.4) scale(0.1)" style="stroke-width:2.50px;">C2</text>
<text x="0" y="0" font-size="26.0" text-anchor="middle" transform="translate(562.35 349.3) scale(0.1)">PE</text>
<text x="0" y="0" font-size="26.0" text-anchor="middle" transform="translate(568.5 349.3) scale(0.1)">N</text>
<text x="0" y="0" font-size="26.0" text-anchor="middle" transform="translate(574.7 349.3) scale(0.1)">L</text>
<text x="0" y="0" font-size="54.0" text-anchor="start" transform="translate(578.8 378.2) scale(0.1)" style="stroke-width:3.00px;">F</text>
<text x="0" y="0" font-size="34.0" text-anchor="start" transform="translate(543 392.2) scale(0.1)" font-weight="bold">PE</text>
<text x="0" y="0" font-size="34.0" text-anchor="start" transform="translate(543 396.9) scale(0.1)" font-weight="bold">N</text>
<text x="0" y="0" font-size="34.0" text-anchor="start" transform="translate(543 401.5) scale(0.1)" font-weight="bold">L</text>
<text x="0" y="0" font-size="46.0" text-anchor="start" transform="translate(466.7 143.4) rotate(90) scale(0.1)">X14</text>
<text x="0" y="0" font-size="46.0" text-anchor="start" transform="translate(445.4 182.4) rotate(90) scale(0.1)">X12</text>
<text x="0" y="0" font-size="46.0" text-anchor="start" transform="translate(462.3 182.4) rotate(90) scale(0.1)">X15</text>
<text x="0" y="0" font-size="46.0" text-anchor="start" transform="translate(478.9 182.4) rotate(90) scale(0.1)">X42</text>
<text x="0" y="0" font-size="46.0" text-anchor="start" transform="translate(445.4 213.3) rotate(90) scale(0.1)">X27</text>
<text x="0" y="0" font-size="46.0" text-anchor="start" transform="translate(462.3 213.3) rotate(90) scale(0.1)">X28</text>
<text x="0" y="0" font-size="46.0" text-anchor="start" transform="translate(478.9 213.3) rotate(90) scale(0.1)">X43</text>
<text x="0" y="0" font-size="46.0" text-anchor="start" transform="translate(465.0 243.1) rotate(90) scale(0.1)">X45</text>
<text x="0" y="0" font-size="46.0" text-anchor="start" transform="translate(478.9 243.1) rotate(90) scale(0.1)">X44</text>
<text x="0" y="0" font-size="46.0" text-anchor="start" transform="translate(495.0 245.3) rotate(90) scale(0.1)">X29</text>
<text x="0" y="0" font-size="46.0" text-anchor="start" transform="translate(454.9 273.0) rotate(90) scale(0.1)">X31</text>
<text x="0" y="0" font-size="46.0" text-anchor="start" transform="translate(465.0 273.0) rotate(90) scale(0.1)">X20</text>
<text x="0" y="0" font-size="46.0" text-anchor="start" transform="translate(478.9 273.0) rotate(90) scale(0.1)">X19</text>
<text x="0" y="0" font-size="46.0" text-anchor="start" transform="translate(495.0 269.7) rotate(90) scale(0.1)">X30</text>
<text x="0" y="0" font-size="46.0" text-anchor="start" transform="translate(478.9 309.3) rotate(90) scale(0.1)">X11</text>
<text x="0" y="0" font-size="46.0" text-anchor="start" transform="translate(444.9 310.4) rotate(90) scale(0.1)">X9</text>
</g>
</svg>
</body></html>
